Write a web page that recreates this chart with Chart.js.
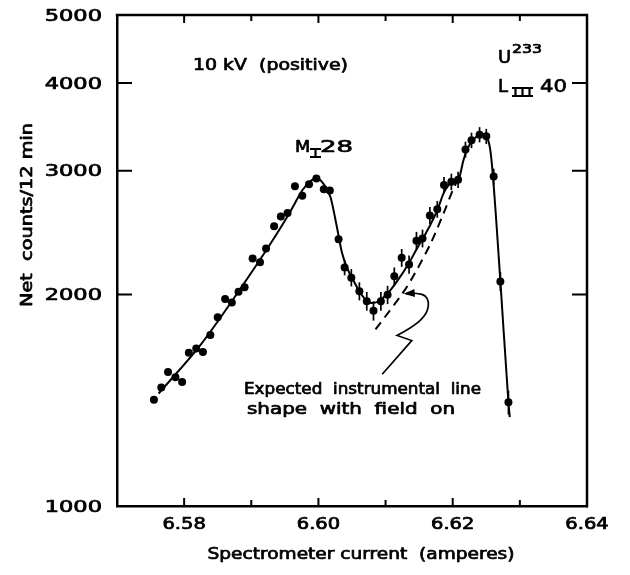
<!DOCTYPE html>
<html>
<head>
<meta charset="utf-8">
<script src="https://cdn.jsdelivr.net/npm/chart.js@4.4.1/dist/chart.umd.min.js"></script>
<style>
  html, body { margin: 0; padding: 0; background: #fff; }
  #wrap { width: 630px; height: 575px; }
</style>
</head>
<body>
<div id="wrap"><canvas id="c" width="630" height="575"></canvas></div>
<script>
// measured points (spectrometer current in A, net counts / 12 min)
const currents = [6.5755, 6.5766, 6.5776, 6.5787, 6.5797, 6.5807, 6.5818, 6.5828, 6.5839, 6.5850,
  6.5861, 6.5871, 6.5881, 6.5890, 6.5902, 6.5913, 6.5922, 6.5934, 6.5944, 6.5954,
  6.5965, 6.5976, 6.5986, 6.5997, 6.6008, 6.6017, 6.6030, 6.6039, 6.6049, 6.6061,
  6.6072, 6.6082, 6.6093, 6.6103, 6.6113, 6.6124, 6.6135, 6.6146, 6.6155, 6.6166,
  6.6177, 6.6187, 6.6198, 6.6208, 6.6219, 6.6228, 6.6240, 6.6250, 6.6261, 6.6271, 6.6283];
const counts = [1417, 1475, 1551, 1525, 1502, 1652, 1676, 1656, 1751, 1856,
  1971, 1948, 2019, 2048, 2250, 2223, 2326, 2501, 2582, 2612,
  2852, 2765, 2871, 2925, 2824, 2812, 2397, 2185, 2114, 2022,
  1957, 1896, 1957, 1998, 2124, 2256, 2207, 2386, 2404, 2592,
  2645, 2863, 2894, 2913, 3217, 3316, 3378, 3359, 2944, 2088, 1405];
// half length of the error bars (0 = none drawn)
const countErrors = [0, 0, 0, 0, 0, 0, 0, 0, 0, 0,
  0, 0, 0, 0, 0, 0, 0, 0, 0, 0,
  0, 0, 0, 0, 0, 0, 0, 55, 60, 60,
  60, 60, 60, 60, 62, 66, 66, 70, 70, 72,
  72, 78, 78, 78, 84, 84, 84, 84, 78, 66, 55];

// hand drawn curve through the points
const fitCurrents = [6.5762, 6.5825, 6.5884, 6.5929, 6.5954, 6.5965, 6.5976, 6.5987, 6.5997,
  6.6007, 6.6018, 6.6027, 6.6035, 6.6043, 6.6052, 6.6060, 6.6070, 6.6079, 6.6088,
  6.6097, 6.6107, 6.6117, 6.6132, 6.6147, 6.6160, 6.6177, 6.6187, 6.6197, 6.6209,
  6.6216, 6.6222, 6.6231, 6.6241, 6.6250, 6.6256, 6.6260, 6.6271, 6.6283, 6.6285];
const fitCounts = [1446, 1699, 2040, 2366, 2585, 2698, 2815, 2892, 2934,
  2880, 2751, 2510, 2296, 2179, 2096, 2028, 1968, 1946, 1952,
  1982, 2028, 2088, 2194, 2327, 2445, 2636, 2796, 2880, 2923,
  3106, 3226, 3321, 3382, 3359, 3210, 2940, 2088, 1405, 1338];

// expected instrumental line shape (dashed)
const dashCurrents = [6.6085, 6.6125, 6.6142, 6.6167, 6.6187, 6.6200, 6.6207];
const dashCounts = [1784, 2006, 2130, 2363, 2619, 2815, 2908];

// arrow from the note up to the dashed line
const arrowCurrents = [6.6095, 6.6139, 6.6117, 6.6140, 6.6160, 6.6165, 6.6160, 6.6145, 6.6130];
const arrowCounts = [1540, 1720, 1749, 1797, 1868, 1941, 1995, 2010, 2006];

const xTicks = [6.58, 6.60, 6.62, 6.64];
const xMinorTicks = [6.59, 6.61, 6.63];
const yTicks = [1000, 2000, 3000, 4000, 5000];

const FONT = "'DejaVu Sans', sans-serif";
const toXY = (xs, ys) => xs.map((x, i) => ({ x, y: ys[i] }));

// text stretched sideways and a bit heavier, the lettering of the original is wide
const drawText = (ctx, str, x, y, opts) => {
  const { size = 15, width = 0, sx = 1.3, align = 'left', rotate = 0 } = opts || {};
  ctx.save();
  ctx.font = `${size}px ${FONT}`;
  const k = width ? width / ctx.measureText(str).width : sx;
  ctx.translate(x, y);
  if (rotate) ctx.rotate(rotate);
  ctx.scale(k, 1);
  ctx.textAlign = align;
  ctx.textBaseline = 'alphabetic';
  ctx.fillStyle = '#000';
  ctx.strokeStyle = '#000';
  ctx.lineWidth = 0.7;
  ctx.lineJoin = 'round';
  ctx.fillText(str, 0, 0);
  ctx.strokeText(str, 0, 0);
  ctx.restore();
};

// roman numeral subscript with bars, like the lettering guide
const drawRoman = (ctx, n, x, top, w, h) => {
  ctx.save();
  ctx.fillStyle = '#000';
  ctx.fillRect(x, top, w, 2);
  ctx.fillRect(x, top + h - 2, w, 2);
  const gap = w / n;
  for (let i = 0; i < n; i++) ctx.fillRect(x + gap * (i + 0.5) - 1.1, top, 2.2, h);
  ctx.restore();
};

const extras = {
  id: 'extras',
  afterDatasetsDraw(chart) {
    const ctx = chart.ctx;
    const xs = chart.scales.x, ys = chart.scales.y;
    const { left, right, top, bottom } = chart.chartArea;
    ctx.save();
    ctx.strokeStyle = '#000';
    ctx.lineCap = 'butt';

    // error bars
    ctx.lineWidth = 1.7;
    currents.forEach((c, i) => {
      const e = countErrors[i];
      if (!e) return;
      const px = xs.getPixelForValue(c);
      ctx.beginPath();
      ctx.moveTo(px, ys.getPixelForValue(counts[i] - e));
      ctx.lineTo(px, ys.getPixelForValue(counts[i] + e));
      ctx.stroke();
    });

    // arrow
    const pts = arrowCurrents.map((c, i) => [xs.getPixelForValue(c), ys.getPixelForValue(arrowCounts[i])]);
    ctx.lineWidth = 1.7;
    ctx.beginPath();
    ctx.moveTo(pts[0][0], pts[0][1]);
    ctx.lineTo(pts[1][0], pts[1][1]);
    ctx.lineTo(pts[2][0], pts[2][1]);
    for (let i = 3; i < pts.length - 1; i++) {
      const mx = (pts[i][0] + pts[i + 1][0]) / 2, my = (pts[i][1] + pts[i + 1][1]) / 2;
      ctx.quadraticCurveTo(pts[i][0], pts[i][1], mx, my);
    }
    const tip = pts[pts.length - 1];
    ctx.lineTo(tip[0], tip[1]);
    ctx.stroke();
    const prev = pts[pts.length - 2];
    const ang = Math.atan2(tip[1] - prev[1], tip[0] - prev[0]);
    ctx.beginPath();
    ctx.moveTo(tip[0] + 2 * Math.cos(ang), tip[1] + 2 * Math.sin(ang));
    ctx.lineTo(tip[0] - 9 * Math.cos(ang) + 4 * Math.sin(ang), tip[1] - 9 * Math.sin(ang) - 4 * Math.cos(ang));
    ctx.lineTo(tip[0] - 9 * Math.cos(ang) - 4 * Math.sin(ang), tip[1] - 9 * Math.sin(ang) + 4 * Math.cos(ang));
    ctx.closePath();
    ctx.fillStyle = '#000';
    ctx.fill();

    // top and right side of the frame
    ctx.lineWidth = 2.5;
    ctx.beginPath();
    ctx.moveTo(left - 1.25, top);
    ctx.lineTo(right, top);
    ctx.lineTo(right, bottom + 1.25);
    ctx.stroke();

    // inward ticks
    ctx.lineWidth = 2;
    const xTick = (v, len) => {
      const px = xs.getPixelForValue(v);
      if (px > right - 2) return;
      ctx.beginPath();
      ctx.moveTo(px, bottom); ctx.lineTo(px, bottom - len);
      ctx.moveTo(px, top); ctx.lineTo(px, top + len);
      ctx.stroke();
    };
    xTicks.forEach(v => xTick(v, 8));
    xMinorTicks.forEach(v => xTick(v, 6));
    yTicks.forEach(v => {
      const py = ys.getPixelForValue(v);
      if (py < top + 2 || py > bottom - 2) return;
      ctx.beginPath();
      ctx.moveTo(left, py); ctx.lineTo(left + 15, py);
      ctx.moveTo(right, py); ctx.lineTo(right - 15, py);
      ctx.stroke();
    });
    ctx.restore();

    // tick labels
    yTicks.forEach(v => drawText(ctx, String(v), left - 15, ys.getPixelForValue(v) + 5.5, { size: 15, sx: 1.5, align: 'right' }));
    xTicks.forEach(v => drawText(ctx, v.toFixed(2), xs.getPixelForValue(v), bottom + 23, { size: 15, sx: 1.3, align: 'center' }));

    // axis titles
    drawText(ctx, 'Spectrometer current  (amperes)', 361, 559, { size: 15, width: 307, align: 'center' });
    drawText(ctx, 'Net  counts/12 min', 32, 215, { size: 15, width: 184, align: 'center', rotate: -Math.PI / 2 });

    // notes
    drawText(ctx, '10 kV  (positive)', 193, 70, { size: 15, width: 155 });
    drawText(ctx, 'M', 295, 152, { size: 16, sx: 1.1 });
    drawRoman(ctx, 1, 310, 148, 11, 10);
    drawText(ctx, '28', 320, 152, { size: 16, width: 33 });
    drawText(ctx, 'U', 498, 63, { size: 18, sx: 1.0 });
    drawText(ctx, '233', 512, 53, { size: 13, width: 30 });
    drawText(ctx, 'L', 498, 92, { size: 18, sx: 1.0 });
    drawRoman(ctx, 3, 512, 87, 21, 10);
    drawText(ctx, '40', 540, 92, { size: 18, width: 27 });
    drawText(ctx, 'Expected  instrumental  line', 244, 394, { size: 15, width: 237 });
    drawText(ctx, 'shape  with  field  on', 247, 414, { size: 15, width: 208 });
  }
};

new Chart(document.getElementById('c'), {
  type: 'scatter',
  data: {
    datasets: [
      {
        label: 'Measured',
        data: toXY(currents, counts),
        pointRadius: 4,
        pointBackgroundColor: '#000',
        pointBorderWidth: 0,
        showLine: false
      },
      {
        label: 'Fit',
        data: toXY(fitCurrents, fitCounts),
        showLine: true,
        borderColor: '#000',
        borderWidth: 2,
        pointRadius: 0,
        cubicInterpolationMode: 'monotone',
        fill: false
      },
      {
        label: 'Expected instrumental line shape',
        data: toXY(dashCurrents, dashCounts),
        showLine: true,
        borderColor: '#000',
        borderWidth: 2,
        borderDash: [9, 6],
        pointRadius: 0,
        tension: 0.3,
        fill: false
      }
    ]
  },
  options: {
    responsive: false,
    animation: false,
    devicePixelRatio: 1,
    layout: { padding: { top: 15, right: 43, left: 0, bottom: 0 } },
    plugins: { legend: { display: false }, tooltip: { enabled: false } },
    scales: {
      x: {
        type: 'linear',
        min: 6.57,
        max: 6.64,
        afterBuildTicks: s => { s.ticks = xTicks.map(v => ({ value: v })); },
        afterFit: s => { s.height = 69; },
        ticks: { display: false },
        grid: { display: false, drawTicks: false },
        border: { display: true, color: '#000', width: 2.5 }
      },
      y: {
        type: 'logarithmic',
        min: 1000,
        max: 5000,
        afterBuildTicks: s => { s.ticks = yTicks.map(v => ({ value: v })); },
        afterFit: s => { s.width = 117; },
        ticks: { display: false },
        grid: { display: false, drawTicks: false },
        border: { display: true, color: '#000', width: 2.5 }
      }
    }
  },
  plugins: [extras]
});
</script>
</body>
</html>
